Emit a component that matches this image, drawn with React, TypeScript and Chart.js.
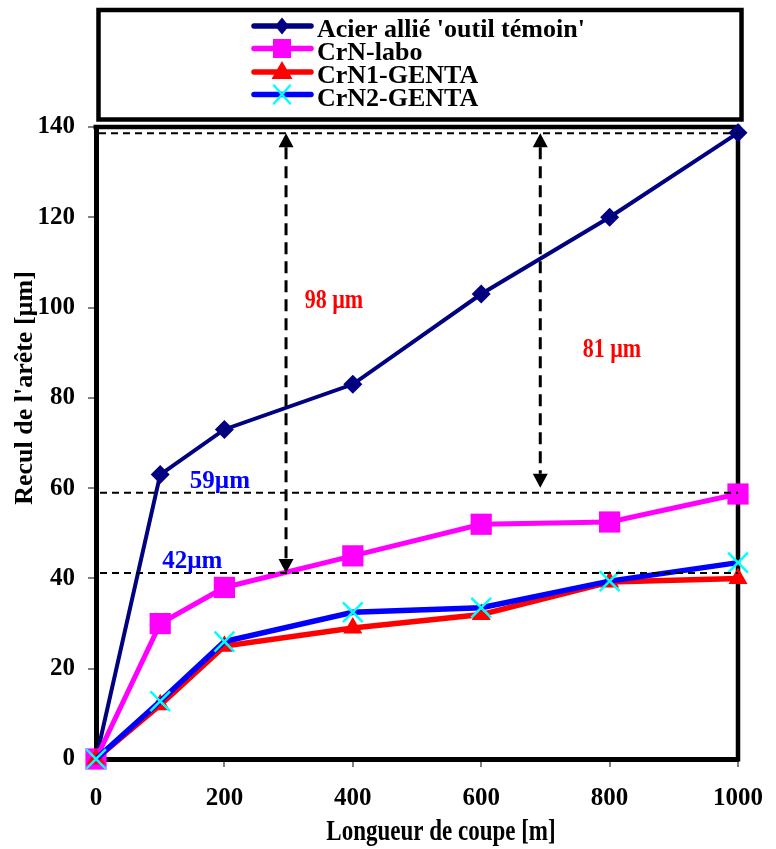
import React, { useEffect, useRef } from 'react';
import { Chart, registerables } from 'chart.js';

Chart.register(...registerables);

const FONT = "'Liberation Serif', 'Times New Roman', serif";

// ---- data ----
const cutLength = [0, 100, 200, 400, 600, 800, 1000];
const acierTemoin = [0, 63, 73, 83, 103, 120, 138.7];
const crnLabo = [0, 30, 38, 45, 52, 52.5, 58.7];
const crn1Genta = [0, 12, 25, 29, 32, 39.2, 40];
const crn2Genta = [0, 12.8, 26, 32.5, 33.5, 39.4, 43.5];
const seriesNames = ["Acier allié 'outil témoin'", 'CrN-labo', 'CrN1-GENTA', 'CrN2-GENTA'];
const xTickStep = 200;
const yTickStep = 20;
const xRange = [0, 1000];
const yRange = [0, 140];

// reference levels (dashed lines) and gap arrows, in data units
const refLevels = [138.6, 59, 41.2];
const arrowX = [296, 692];
const arrowFrom = [138.6, 138.6];
const arrowTo = [41.2, 59];
const gapTexts = ['98 µm', '81 µm', '59µm', '42µm'];
const gapTextX = [325, 758, 146, 103];
const gapTextY = [100, 89, 60, 42.3];
const gapTextColors = ['#FF0000', '#FF0000', '#0000FF', '#0000FF'];
const gapTextSizes = [22, 22, 25, 25];
const gapTextStretch = [1.2, 1.2, 1, 1];

const COLORS = ['#000080', '#FF00FF', '#FF0000', '#0000FF'];

function drawMarker(ctx: CanvasRenderingContext2D, kind: number, x: number, y: number) {
  ctx.save();
  if (kind === 0) {
    ctx.fillStyle = COLORS[0];
    ctx.beginPath();
    ctx.moveTo(x, y - 8.5);
    ctx.lineTo(x + 7, y);
    ctx.lineTo(x, y + 8.5);
    ctx.lineTo(x - 7, y);
    ctx.closePath();
    ctx.fill();
  } else if (kind === 1) {
    ctx.fillStyle = COLORS[1];
    ctx.fillRect(x - 9, y - 9.5, 18, 19);
  } else if (kind === 2) {
    ctx.fillStyle = COLORS[2];
    ctx.beginPath();
    ctx.moveTo(x, y - 11);
    ctx.lineTo(x + 10.5, y + 7);
    ctx.lineTo(x - 10.5, y + 7);
    ctx.closePath();
    ctx.fill();
  } else {
    ctx.strokeStyle = '#00FFFF';
    ctx.lineWidth = 2.5;
    ctx.beginPath();
    ctx.moveTo(x - 8, y - 9);
    ctx.lineTo(x + 8, y + 9);
    ctx.moveTo(x + 8, y - 9);
    ctx.lineTo(x - 8, y + 9);
    ctx.stroke();
  }
  ctx.restore();
}

const decorPlugin = {
  id: 'decor',
  beforeDatasetsDraw(chart: any) {
    const { ctx, chartArea } = chart;
    ctx.save();
    ctx.strokeStyle = '#000';
    ctx.lineWidth = 4.5;
    ctx.beginPath();
    ctx.moveTo(chartArea.left - 2.5, chartArea.top);
    ctx.lineTo(chartArea.right, chartArea.top);
    ctx.lineTo(chartArea.right, chartArea.bottom + 2.5);
    ctx.stroke();
    ctx.restore();
  },
  afterDatasetsDraw(chart: any) {
    const { ctx, chartArea } = chart;
    const xs = chart.scales.x;
    const ys = chart.scales.y;
    ctx.save();
    // horizontal dashed reference lines
    ctx.strokeStyle = '#000';
    ctx.lineWidth = 2;
    ctx.setLineDash([7, 5]);
    refLevels.forEach((v, i) => {
      const py = ys.getPixelForValue(v);
      ctx.beginPath();
      ctx.moveTo(chartArea.left + (i === 0 ? 3 : 4), py);
      ctx.lineTo(chartArea.right, py);
      ctx.stroke();
    });
    // vertical arrows
    arrowX.forEach((xv, i) => {
      const px = xs.getPixelForValue(xv);
      const y1 = ys.getPixelForValue(arrowFrom[i]);
      const y2 = ys.getPixelForValue(arrowTo[i]) - (i === 1 ? 5 : 0);
      const head = 14;
      ctx.setLineDash([12, 7]);
      ctx.lineWidth = 3;
      ctx.beginPath();
      ctx.moveTo(px, y1 + head);
      ctx.lineTo(px, y2 - head);
      ctx.stroke();
      ctx.setLineDash([]);
      ctx.fillStyle = '#000';
      ctx.beginPath();
      ctx.moveTo(px, y1);
      ctx.lineTo(px + 7.5, y1 + head);
      ctx.lineTo(px - 7.5, y1 + head);
      ctx.closePath();
      ctx.fill();
      ctx.beginPath();
      ctx.moveTo(px, y2);
      ctx.lineTo(px + 7.5, y2 - head);
      ctx.lineTo(px - 7.5, y2 - head);
      ctx.closePath();
      ctx.fill();
    });
    // gap texts
    ctx.textAlign = 'left';
    ctx.textBaseline = 'alphabetic';
    gapTexts.forEach((t, i) => {
      ctx.save();
      ctx.fillStyle = gapTextColors[i];
      ctx.font = `bold ${gapTextSizes[i]}px ${FONT}`;
      ctx.translate(xs.getPixelForValue(gapTextX[i]), ys.getPixelForValue(gapTextY[i]));
      ctx.scale(1, gapTextStretch[i]);
      ctx.fillText(t, 0, 0);
      ctx.restore();
    });
    ctx.restore();
  },
  afterDraw(chart: any) {
    const { ctx } = chart;
    ctx.save();
    // legend box
    ctx.strokeStyle = '#000';
    ctx.lineWidth = 4.5;
    ctx.strokeRect(98.5, 10, 643, 109.5);
    const rowLineY = [26, 48.5, 72, 94.5];
    const rowTextY = [37, 59.5, 83, 105.5];
    seriesNames.forEach((name, i) => {
      ctx.strokeStyle = COLORS[i];
      ctx.lineWidth = 5.5;
      ctx.lineCap = 'round';
      ctx.beginPath();
      ctx.moveTo(254, rowLineY[i]);
      ctx.lineTo(311, rowLineY[i]);
      ctx.stroke();
      drawMarker(ctx, i, 282, rowLineY[i]);
      ctx.fillStyle = '#000';
      ctx.font = `bold 26px ${FONT}`;
      ctx.textAlign = 'left';
      ctx.textBaseline = 'alphabetic';
      ctx.fillText(name, 317, rowTextY[i]);
    });
    // axis titles
    ctx.fillStyle = '#000';
    ctx.textAlign = 'center';
    ctx.textBaseline = 'alphabetic';
    ctx.save();
    ctx.translate(441, 840);
    ctx.scale(1, 1.3);
    ctx.font = `bold 23px ${FONT}`;
    ctx.fillText('Longueur de coupe [m]', 0, 0);
    ctx.restore();
    ctx.save();
    ctx.translate(32, 388);
    ctx.rotate(-Math.PI / 2);
    ctx.font = `bold 26px ${FONT}`;
    ctx.fillText("Recul de l'arête [µm]", 0, 0);
    ctx.restore();
    ctx.restore();
  },
};

function pts(values: number[]) {
  return cutLength.map((x, i) => ({ x, y: values[i] }));
}

export default function App() {
  const ref = useRef<HTMLCanvasElement | null>(null);
  useEffect(() => {
    if (!ref.current) return;
    const tickFont = { family: FONT, size: 25, weight: 'bold' as const };
    const chart = new Chart(ref.current, {
      type: 'line',
      data: {
        datasets: [
          {
            label: seriesNames[0],
            data: pts(acierTemoin),
            borderColor: COLORS[0],
            backgroundColor: COLORS[0],
            borderWidth: 4,
            pointStyle: 'rectRot',
            pointRadius: 9.5,
            pointBorderWidth: 0,
            pointBackgroundColor: COLORS[0],
            tension: 0,
            clip: false,
            order: 3,
          },
          {
            label: seriesNames[1],
            data: pts(crnLabo),
            borderColor: COLORS[1],
            backgroundColor: COLORS[1],
            borderWidth: 5,
            pointStyle: 'rect',
            pointRadius: 15,
            pointBorderWidth: 0,
            pointBackgroundColor: COLORS[1],
            tension: 0,
            clip: false,
            order: 2,
          },
          {
            label: seriesNames[2],
            data: pts(crn1Genta),
            borderColor: COLORS[2],
            backgroundColor: COLORS[2],
            borderWidth: 5.5,
            pointStyle: 'triangle',
            pointRadius: 11,
            pointBorderWidth: 0,
            pointBackgroundColor: COLORS[2],
            tension: 0,
            clip: false,
            order: 1,
          },
          {
            label: seriesNames[3],
            data: pts(crn2Genta),
            borderColor: COLORS[3],
            backgroundColor: COLORS[3],
            borderWidth: 5.5,
            pointStyle: 'crossRot',
            pointRadius: 14,
            pointBorderWidth: 2.5,
            pointBorderColor: '#00FFFF',
            pointBackgroundColor: '#00FFFF',
            tension: 0,
            clip: false,
            order: 0,
          },
        ],
      },
      options: {
        animation: false,
        responsive: false,
        devicePixelRatio: 1,
        layout: { padding: { top: 127, right: 38, left: 0, bottom: 0 } },
        plugins: { legend: { display: false }, tooltip: { enabled: false } },
        scales: {
          x: {
            type: 'linear',
            min: xRange[0],
            max: xRange[1],
            ticks: {
              stepSize: xTickStep,
              font: tickFont,
              color: '#000',
              padding: 17,
              maxRotation: 0,
              callback: (v: any) => String(v),
            },
            grid: { drawOnChartArea: false, tickLength: 8, color: '#808080', lineWidth: 2 },
            border: { display: true, color: '#000', width: 5 },
            afterFit: (s: any) => {
              s.height = 90;
              s.paddingLeft = 0;
              s.paddingRight = 0;
            },
          },
          y: {
            type: 'linear',
            min: yRange[0],
            max: yRange[1],
            ticks: {
              stepSize: yTickStep,
              font: tickFont,
              color: '#000',
              padding: 13,
              callback: (v: any) => String(v),
            },
            grid: { drawOnChartArea: false, tickLength: 8, color: '#808080', lineWidth: 2 },
            border: { display: true, color: '#000', width: 5 },
            afterFit: (s: any) => {
              s.width = 96;
              s.paddingTop = 0;
              s.paddingBottom = 0;
            },
          },
        },
      },
      plugins: [decorPlugin],
    });
    return () => chart.destroy();
  }, []);
  return (
    <div style={{ position: 'absolute', left: 0, top: 0, width: 776, height: 849, background: '#fff' }}>
      <canvas ref={ref} width={776} height={849} style={{ display: 'block' }} />
    </div>
  );
}
